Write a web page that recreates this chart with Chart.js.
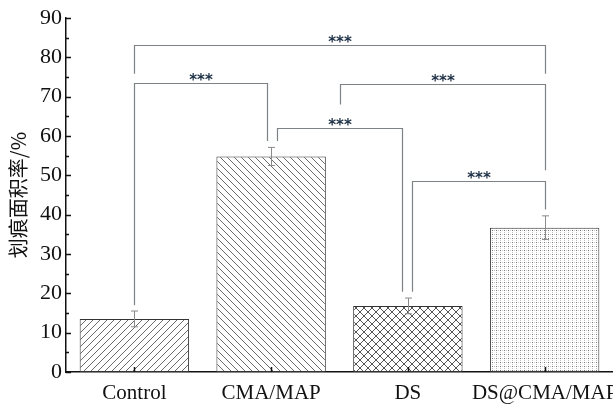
<!DOCTYPE html>
<html>
<head>
<meta charset="utf-8">
<script src="https://cdn.jsdelivr.net/npm/chart.js@4.4.0/dist/chart.umd.min.js"></script>
<style>
  html, body { margin: 0; padding: 0; background: #fff; }
  #wrap { width: 613px; height: 405px; }
</style>
</head>
<body>
<div id="wrap"><canvas id="scratchChart" width="613" height="405"></canvas></div>
<script>
/* ---------- Data ---------- */
const categories = ["Control", "CMA/MAP", "DS", "DS@CMA/MAP"];
const scratchArea = [13.5, 54.8, 16.8, 36.7];
const scratchErr = [2.0, 2.3, 2.0, 3.0];
const yTicks = [0, 10, 20, 30, 40, 50, 60, 70, 80, 90];
const yMinorTicks = [5, 15, 25, 35, 45, 55, 65, 75, 85];

/* significance brackets (category positions, y values) */
const bracketFrom = [0, 0, 1.04, 1.5, 2.03];
const bracketTo = [3, 0.97, 1.96, 3, 3];
const bracketTop = [83.2, 73.5, 62.0, 73.2, 48.5];
const bracketLeftEnd = [75.8, 17.0, 58.7, 68.0, 20.4];
const bracketRightEnd = [75.8, 58.7, 20.4, 51.3, 41.3];
const bracketLabel = ["***", "***", "***", "***", "***"];

/* ---------- Fill patterns ---------- */
function makePattern(kind) {
    const c = document.createElement("canvas");
    const s = kind === "dots" ? 4 : (kind === "cross" ? 8 : 7);
    c.width = s; c.height = s;
    const g = c.getContext("2d");
    g.fillStyle = "#fff";
    g.fillRect(0, 0, s, s);
    g.strokeStyle = "#6a6a6a";
    g.lineWidth = 1;
    function fwd() { g.beginPath(); g.moveTo(-1, s + 1); g.lineTo(s + 1, -1); g.moveTo(-1, 1); g.lineTo(1, -1); g.moveTo(s - 1, s + 1); g.lineTo(s + 1, s - 1); g.stroke(); }
    function back() { g.beginPath(); g.moveTo(-1, -1); g.lineTo(s + 1, s + 1); g.moveTo(s - 1, -1); g.lineTo(s + 1, 1); g.moveTo(-1, s - 1); g.lineTo(1, s + 1); g.stroke(); }
    if (kind === "fwd") fwd();
    if (kind === "back") back();
    if (kind === "cross") { g.strokeStyle = "#555"; fwd(); back(); }
    if (kind === "dots") {
        g.fillStyle = "#c4c4c4";
        g.fillRect(0, 0, 1, 1);
        g.fillRect(2, 2, 1, 1);
        g.fillStyle = "#777";
        g.fillRect(0, 2, 1, 1);
    }
    return document.createElement("canvas").getContext("2d").createPattern(c, "repeat");
}

/* ---------- Overlay: ticks, error bars, brackets ---------- */
const overlayPlugin = {
    id: "overlay",
    afterDatasetsDraw(chart) {
        const ctx = chart.ctx;
        const x = chart.scales.x, y = chart.scales.y;
        const area = chart.chartArea;
        ctx.save();

        // axis ticks (inward)
        ctx.strokeStyle = "#111";
        ctx.lineWidth = 1.5;
        ctx.beginPath();
        yTicks.forEach(function (v) { const py = Math.round(y.getPixelForValue(v)) + 0.5; ctx.moveTo(area.left, py); ctx.lineTo(area.left + 5, py); });
        yMinorTicks.forEach(function (v) { const py = Math.round(y.getPixelForValue(v)) + 0.5; ctx.moveTo(area.left, py); ctx.lineTo(area.left + 3, py); });
        categories.forEach(function (c, i) { const px = Math.round(x.getPixelForValue(i)) + 0.5; ctx.moveTo(px, area.bottom); ctx.lineTo(px, area.bottom - 5); });
        ctx.stroke();

        // error bars
        ctx.strokeStyle = "#8a8a8a";
        ctx.lineWidth = 1;
        ctx.beginPath();
        scratchArea.forEach(function (v, i) {
            const px = Math.round(x.getPixelForValue(i)) + 0.5;
            const top = y.getPixelForValue(v + scratchErr[i]);
            const bot = y.getPixelForValue(v - scratchErr[i]);
            ctx.moveTo(px, top); ctx.lineTo(px, bot);
            ctx.moveTo(px - 3.5, top); ctx.lineTo(px + 3.5, top);
            ctx.moveTo(px - 3.5, bot); ctx.lineTo(px + 3.5, bot);
        });
        ctx.stroke();

        // significance brackets
        ctx.strokeStyle = "#7d8287";
        ctx.lineWidth = 1.2;
        ctx.fillStyle = "#1d2f45";
        ctx.font = "bold 15px 'DejaVu Sans'";
        ctx.textAlign = "center";
        ctx.textBaseline = "alphabetic";
        bracketTop.forEach(function (v, i) {
            const x1 = Math.round(x.getPixelForValue(bracketFrom[i])) + 0.5;
            const x2 = Math.round(x.getPixelForValue(bracketTo[i])) + 0.5;
            const py = Math.round(y.getPixelForValue(v)) + 0.5;
            ctx.beginPath();
            ctx.moveTo(x1, y.getPixelForValue(bracketLeftEnd[i]));
            ctx.lineTo(x1, py);
            ctx.lineTo(x2, py);
            ctx.lineTo(x2, y.getPixelForValue(bracketRightEnd[i]));
            ctx.stroke();
            ctx.fillText(bracketLabel[i], (x1 + x2) / 2, py + 1);
        });
        ctx.restore();
    }
};

/* ---------- Chart ---------- */
function initScratchChart() {
    const el = document.getElementById("scratchChart");
    new Chart(el.getContext("2d"), {
        type: "bar",
        data: {
            labels: categories,
            datasets: [{
                data: scratchArea,
                backgroundColor: [makePattern("fwd"), makePattern("back"), makePattern("cross"), makePattern("dots")],
                borderColor: "#333",
                borderWidth: 1,
                borderSkipped: false,
                barPercentage: 0.8,
                categoryPercentage: 1.0
            }]
        },
        options: {
            responsive: false,
            animation: false,
            devicePixelRatio: 1,
            layout: { padding: { top: 18, right: 0, left: 0, bottom: 0 } },
            plugins: { legend: { display: false }, tooltip: { enabled: false } },
            scales: {
                x: {
                    offset: true,
                    grid: { display: false, drawTicks: false },
                    border: { display: true, color: "#111", width: 1.5 },
                    ticks: { font: { family: "Liberation Serif", size: 21 }, color: "#111", padding: 9, maxRotation: 0, autoSkip: false },
                    afterFit: function (s) { s.paddingRight = 0; s.paddingLeft = 0; s.height = 33; }
                },
                y: {
                    min: 0, max: 90,
                    grid: { display: false, drawTicks: false },
                    border: { display: true, color: "#111", width: 1.5 },
                    ticks: { font: { family: "Liberation Serif", size: 22 }, color: "#111", padding: 4 },
                    afterBuildTicks: function (s) { s.ticks = yTicks.map(function (v) { return { value: v }; }); },
                    title: { display: true, text: "划痕面积率/%", font: { family: "Noto Sans CJK SC", size: 20 }, color: "#111", padding: { top: 6, bottom: 0 } },
                    afterFit: function (s) { s.width = 66; }
                }
            }
        },
        plugins: [overlayPlugin]
    });
}

document.addEventListener("DOMContentLoaded", initScratchChart);
</script>
</body>
</html>
